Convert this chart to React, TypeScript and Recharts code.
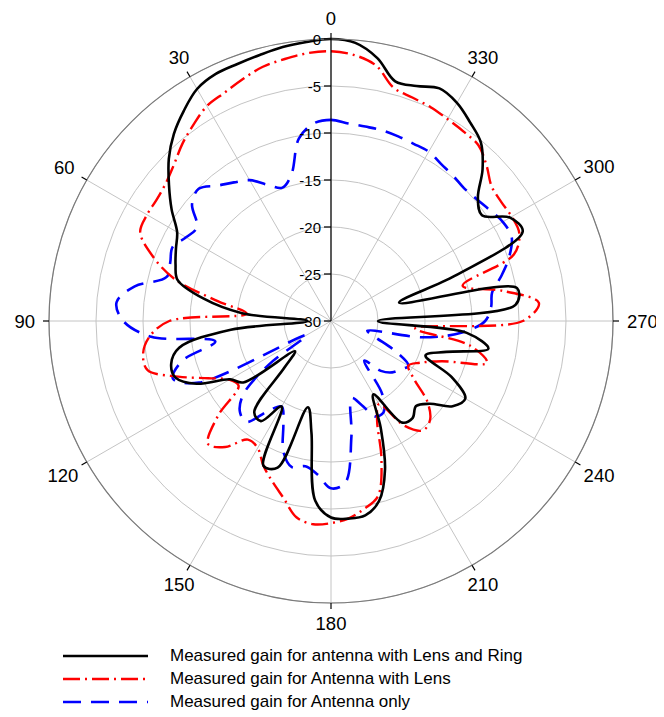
import React from "react";
import { RadarChart, Radar, PolarGrid, PolarAngleAxis, PolarRadiusAxis } from "recharts";

// azimuth in degrees, counter-clockwise from the top
const angles = [
  0, 5, 10, 15, 20, 25, 30, 35, 40, 45, 50, 55, 60, 65, 70, 75, 80, 85,
  90, 95, 100, 105, 110, 115, 120, 125, 130, 135, 140, 145, 150, 155, 160, 165, 170, 175,
  180, 185, 190, 195, 200, 205, 210, 215, 220, 225, 230, 235, 240, 245, 250, 255, 260, 265,
  270, 275, 280, 285, 290, 295, 300, 305, 310, 315, 320, 325, 330, 335, 340, 345, 350, 355,
];

// measured gain (dB), one value per azimuth above
const lensRing = [
  0, -0.2, -0.4, -0.7, -0.9, -1.0, -1.5, -2.7, -4.0, -5.6, -7.5, -9.3, -11.1, -11.8, -12.4, -13.1, -16.2, -20.5,
  -27.5, -19.3, -13.6, -12.4, -12.4, -14.2, -17.6, -18.6, -25.0, -23.0, -17.3, -17.0, -19.5, -13.0, -13.4, -20.5, -18.0, -10.8,
  -9.1, -8.9, -9.0, -10.2, -13.2, -17.5, -21.0, -16.8, -16.5, -17.2, -16.3, -14.2, -13.5, -15.8, -19.3, -17.3, -13.0, -15.5,
  -25.0, -10.3, -9.9, -22.5, -16.0, -7.5, -8.0, -10.4, -9.6, -7.2, -5.2, -4.2, -3.2, -2.7, -3.4, -3.6, -1.6, -0.3,
];

const lensOnly = [
  -1.3, -1.4, -1.7, -2.0, -2.6, -3.2, -3.6, -4.5, -5.4, -6.4, -7.1, -7.4, -7.4, -7.6, -9.8, -12.8, -17.7, -21.0,
  -12.8, -10.6, -9.7, -9.8, -12.7, -15.6, -17.5, -18.0, -14.3, -11.5, -12.5, -14.6, -14.4, -13.0, -11.8, -10.5, -8.8, -8.3,
  -8.5, -8.9, -9.7, -10.7, -14.3, -18.4, -19.8, -16.4, -14.8, -15.1, -16.6, -19.2, -20.5, -19.5, -17.5, -12.8, -15.0, -21.0,
  -9.6, -7.8, -11.5, -15.5, -9.3, -7.9, -7.8, -7.9, -7.7, -6.6, -5.6, -5.4, -5.2, -4.9, -4.7, -4.3, -2.4, -1.6,
];

const antennaOnly = [
  -8.6, -8.9, -10.3, -13.8, -14.9, -14.0, -12.7, -12.0, -11.2, -10.1, -10.7, -12.6, -12.2, -11.4, -11.8, -11.9, -8.8, -7.1,
  -7.9, -10.8, -17.5, -13.6, -12.1, -14.5, -27.0, -22.0, -17.8, -16.3, -16.0, -18.3, -19.5, -18.0, -15.2, -13.9, -14.3, -13.6,
  -12.2, -12.7, -17.5, -21.5, -20.5, -18.8, -18.8, -20.5, -24.5, -22.5, -21.5, -21.0, -20.5, -22.5, -25.0, -26.0, -20.0, -16.0,
  -13.6, -12.9, -12.6, -11.2, -9.8, -8.8, -8.9, -9.4, -9.8, -10.0, -9.8, -9.6, -9.2, -9.2, -9.1, -9.0, -9.0, -8.9,
];

const radiusTicks = [-30, -25, -20, -15, -10, -5, 0];
const angleLabels = [0, 30, 60, 90, 120, 150, 180, 210, 240, 270, 300, 330];

const legendItems = [
  { label: "Measured gain for antenna with Lens and Ring", color: "#000000", dash: "", width: 2.6 },
  { label: "Measured gain for Antenna with Lens", color: "#ff0000", dash: "17 5 2 5", width: 2.4 },
  { label: "Measured gain for Antenna only", color: "#0000ff", dash: "18 10", width: 2.6 },
];

// the radar walks clockwise from the top, so feed it 0, 355, 350, ... 5
const order = angles.map((_, i) => (angles.length - i) % angles.length);
const rows = order.map((i) => ({
  angle: angles[i],
  lensRing: lensRing[i],
  lensOnly: lensOnly[i],
  antennaOnly: antennaOnly[i],
}));

const FONT = "'Liberation Sans', Arial, sans-serif";
const CX = 323;
const CY = 313;
const OUTER = 282;

// closed centripetal Catmull-Rom through the radar points
function smoothClosedPath(pts: { x: number; y: number }[]) {
  const n = pts.length;
  if (!n) return "";
  const dist = (a: any, b: any) => Math.hypot(a.x - b.x, a.y - b.y);
  let d = `M${pts[0].x},${pts[0].y}`;
  for (let i = 0; i < n; i++) {
    const p0 = pts[(i - 1 + n) % n];
    const p1 = pts[i];
    const p2 = pts[(i + 1) % n];
    const p3 = pts[(i + 2) % n];
    const d01 = dist(p0, p1), d12 = dist(p1, p2), d23 = dist(p2, p3);
    const l01 = Math.sqrt(d01), l12 = Math.sqrt(d12), l23 = Math.sqrt(d23);
    let c1x = p1.x, c1y = p1.y, c2x = p2.x, c2y = p2.y;
    if (l01 > 1e-6) {
      const a = 2 * d01 + 3 * l01 * l12 + d12;
      const m = 3 * l01 * (l01 + l12);
      c1x = (p1.x * a - p0.x * d12 + p2.x * d01) / m;
      c1y = (p1.y * a - p0.y * d12 + p2.y * d01) / m;
    }
    if (l23 > 1e-6) {
      const b = 2 * d23 + 3 * l23 * l12 + d12;
      const m = 3 * l23 * (l23 + l12);
      c2x = (p2.x * b + p1.x * d23 - p3.x * d12) / m;
      c2y = (p2.y * b + p1.y * d23 - p3.y * d12) / m;
    }
    d += ` C${c1x},${c1y} ${c2x},${c2y} ${p2.x},${p2.y}`;
  }
  return d + " Z";
}

const curveShape = (color: string, width: number, dash: string) => (props: any) => (
  <path
    d={smoothClosedPath(props.points || [])}
    fill="none"
    stroke={color}
    strokeWidth={width}
    strokeDasharray={dash || undefined}
    strokeLinejoin="round"
  />
);

// outer tick marks + labels every 30 degrees
const AngleTick = (props: any) => {
  const deg = Number(props.payload.value);
  if (deg % 30 !== 0) return null;
  const rad = ((90 + deg) * Math.PI) / 180;
  const ux = Math.cos(rad);
  const uy = -Math.sin(rad);
  const label = String(deg);
  const w = label.length * 10.3;
  const h = 13.5;
  const ex = Math.abs(ux) > 1e-6 ? w / 2 / Math.abs(ux) : Infinity;
  const ey = Math.abs(uy) > 1e-6 ? h / 2 / Math.abs(uy) : Infinity;
  const r = OUTER + 6 + 8 + Math.min(ex, ey);
  return (
    <g>
      <line
        x1={CX + OUTER * ux}
        y1={CY + OUTER * uy}
        x2={CX + (OUTER + 6) * ux}
        y2={CY + (OUTER + 6) * uy}
        stroke="#000"
        strokeWidth={1.2}
      />
      <text
        x={CX + r * ux}
        y={CY + r * uy}
        textAnchor="middle"
        dominantBaseline="central"
        fontSize={18.5}
        fontFamily={FONT}
        fill="#000"
      >
        {label}
      </text>
    </g>
  );
};

// dB ticks: vertical axes get marks to the left, horizontal ones below
const radiusTick = (vertical: boolean) => (props: any) => {
  const { x, y, payload } = props;
  if (vertical) {
    return (
      <g>
        <line x1={x - 7} y1={y} x2={x} y2={y} stroke="#000" strokeWidth={1.2} />
        <text x={x - 10} y={y} textAnchor="end" dominantBaseline="central" fontSize={15} fontFamily={FONT} fill="#000">
          {payload.value}
        </text>
      </g>
    );
  }
  return (
    <g>
      <line x1={x} y1={y} x2={x} y2={y + 7} stroke="#000" strokeWidth={1.2} />
      <text x={x} y={y + 23} textAnchor="middle" dominantBaseline="central" fontSize={15} fontFamily={FONT} fill="#000">
        {payload.value}
      </text>
    </g>
  );
};

export default function App() {
  const gridAngles = angleLabels.map((a) => 90 + a);
  return (
    <div style={{ width: 656, fontFamily: FONT, background: "#fff" }}>
      <RadarChart
        width={656}
        height={625}
        cx={CX}
        cy={CY}
        outerRadius={OUTER}
        data={rows}
        margin={{ top: 0, right: 0, bottom: 0, left: 0 }}
      >
        <PolarGrid gridType="circle" radiusAxisId="r90" polarAngles={gridAngles} stroke="#c4c4c4" strokeWidth={1} />
        <PolarAngleAxis
          dataKey="angle"
          axisLineType="circle"
          axisLine={{ stroke: "#7a7a7a", strokeWidth: 1.2 }}
          tickLine={false}
          tick={AngleTick}
        />
        <PolarRadiusAxis radiusAxisId="r90" angle={90} type="number" domain={[-30, 0]} ticks={radiusTicks} axisLine={{ stroke: "#000", strokeWidth: 1.2 }} tick={radiusTick(true)} />
        <PolarRadiusAxis radiusAxisId="r270" angle={270} type="number" domain={[-30, 0]} ticks={radiusTicks} axisLine={{ stroke: "#000", strokeWidth: 1.2 }} tick={radiusTick(true)} />
        <PolarRadiusAxis radiusAxisId="r180" angle={180} type="number" domain={[-30, 0]} ticks={radiusTicks} axisLine={{ stroke: "#000", strokeWidth: 1.2 }} tick={radiusTick(false)} />
        <PolarRadiusAxis radiusAxisId="r0" angle={0} type="number" domain={[-30, 0]} ticks={radiusTicks} axisLine={{ stroke: "#000", strokeWidth: 1.2 }} tick={radiusTick(false)} />
        <Radar dataKey="antennaOnly" radiusAxisId="r90" isAnimationActive={false} dot={false} shape={curveShape("#0000ff", 2.6, "18 10")} />
        <Radar dataKey="lensOnly" radiusAxisId="r90" isAnimationActive={false} dot={false} shape={curveShape("#ff0000", 2.4, "17 5 2 5")} />
        <Radar dataKey="lensRing" radiusAxisId="r90" isAnimationActive={false} dot={false} shape={curveShape("#000000", 2.6, "")} />
      </RadarChart>
      <div style={{ paddingTop: 11 }}>
        {legendItems.map((item) => (
          <div key={item.label} style={{ display: "flex", alignItems: "center", height: 23 }}>
            <svg width={162} height={10} style={{ display: "block" }}>
              <line x1={55} y1={5} x2={140} y2={5} stroke={item.color} strokeWidth={item.width} strokeDasharray={item.dash || undefined} />
            </svg>
            <span style={{ fontSize: 17, color: "#000", whiteSpace: "nowrap" }}>{item.label}</span>
          </div>
        ))}
      </div>
    </div>
  );
}
